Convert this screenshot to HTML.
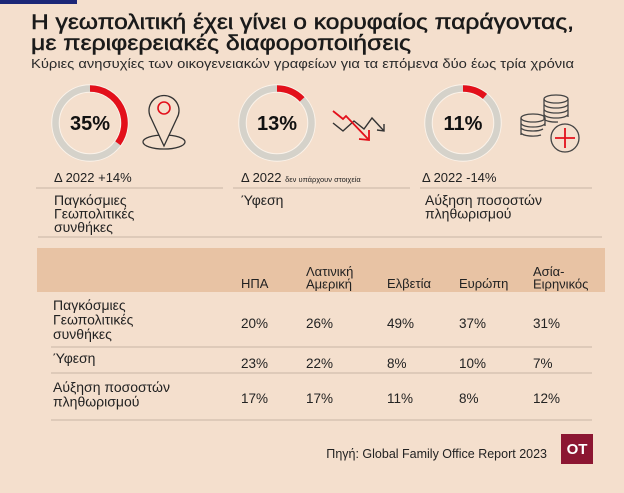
<!DOCTYPE html>
<html><head><meta charset="utf-8"><style>
html,body{margin:0;padding:0;background:#f4dfcd;}
svg{display:block;font-family:"Liberation Sans","DejaVu Sans",sans-serif;}
</style></head><body>
<svg id="chart" width="624" height="493" viewBox="0 0 624 493" xmlns="http://www.w3.org/2000/svg">
<rect x="0" y="0" width="624" height="493" fill="#f4dfcd"/>
<rect x="0" y="0" width="77" height="4" fill="#1c2777"/>
<text x="31" y="29" font-size="21" fill="#1a1a1a" stroke="#1a1a1a" stroke-width="0.5" textLength="543" lengthAdjust="spacingAndGlyphs">Η γεωπολιτική έχει γίνει ο κορυφαίος παράγοντας,</text>
<text x="31" y="50" font-size="21" fill="#1a1a1a" stroke="#1a1a1a" stroke-width="0.5" textLength="380" lengthAdjust="spacingAndGlyphs">με περιφερειακές διαφοροποιήσεις</text>
<text x="31" y="68" font-size="13" fill="#2a2a2a" textLength="543" lengthAdjust="spacingAndGlyphs">Κύριες ανησυχίες των οικογενειακών γραφείων για τα επόμενα δύο έως τρία χρόνια</text>

<g id="donuts"></g>

<g fill="none" stroke-width="1.3">
<ellipse cx="164" cy="142" rx="21" ry="7" stroke="#333"/>
<path d="M164 146 L151 118 A15 15 0 1 1 177 118 Z" stroke="#333" fill="#f4dfcd"/>
<circle cx="164" cy="108" r="6" stroke="#e3101b" stroke-width="1.6"/>
</g>
<g fill="none" stroke-width="1.4">
<polyline points="333,123 343,131 354,121 364,129 372,118 384,131" stroke="#333"/>
<polyline points="377,130 384,131 384,124" stroke="#333"/>
<polyline points="333,111 343,119 346,116 368,139" stroke="#e3101b" stroke-width="1.8"/>
<polyline points="359,139 369,140 369,130" stroke="#e3101b" stroke-width="1.8"/>
</g>
<g fill="none" stroke="#444" stroke-width="1.3">
<ellipse cx="556" cy="99" rx="12" ry="4"/><path d="M544 99 v20 M568 99 v18 M544 104 a12 4 0 0 0 24 0 M544 109 a12 4 0 0 0 24 0 M544 114 a12 4 0 0 0 24 0 M544 119 a12 4 0 0 0 14 3"/>
<ellipse cx="533" cy="118" rx="12" ry="4"/><path d="M521 118 v17 M545 118 v8 M521 123 a12 4 0 0 0 24 0 M521 128 a12 4 0 0 0 22 1 M521 133 a12 4 0 0 0 20 2"/>
<circle cx="565" cy="138" r="14" fill="#f4dfcd"/>
<path d="M565 128 v20 M555 138 h20" stroke="#e3101b" stroke-width="1.8"/>
</g>

<text x="54" y="182" font-size="13" fill="#222">Δ 2022 +14%</text>
<text x="241" y="182" font-size="13" fill="#222">Δ 2022 <tspan font-size="7.5">δεν υπάρχουν στοιχεία</tspan></text>
<text x="422" y="182" font-size="13" fill="#222">Δ 2022 -14%</text>
<line x1="36" y1="188" x2="223" y2="188" stroke="#c9b6a5"/>
<line x1="233" y1="188" x2="410" y2="188" stroke="#c9b6a5"/>
<line x1="420" y1="188" x2="592" y2="188" stroke="#c9b6a5"/>
<g font-size="14" fill="#222">
<text x="54" y="205"><tspan x="54">Παγκόσμιες</tspan><tspan x="54" dy="13.5">Γεωπολιτικές</tspan><tspan x="54" dy="13.5">συνθήκες</tspan></text>
<text x="241" y="205">Ύφεση</text>
<text x="425" y="205"><tspan x="425">Αύξηση ποσοστών</tspan><tspan x="425" dy="13.5">πληθωρισμού</tspan></text>
</g>
<line x1="38" y1="237" x2="602" y2="237" stroke="#c9b6a5"/>

<rect x="37" y="248" width="568" height="44" fill="#e8c3a4"/>
<g id="table"></g>

<text x="547" y="458" font-size="12.5" fill="#222" text-anchor="end">Πηγή: Global Family Office Report 2023</text>
<rect x="561" y="434" width="32" height="30" fill="#8c1632"/>
<text x="577" y="454" font-size="15" font-weight="bold" fill="#fff" text-anchor="middle">OT</text>
</svg>
<script>
const kpiValues = [35, 13, 11];
const kpiCentersX = [90, 277, 463];
const regions = [["ΗΠΑ"], ["Λατινική", "Αμερική"], ["Ελβετία"], ["Ευρώπη"], ["Ασία-", "Ειρηνικός"]];
const rowLabels = [["Παγκόσμιες", "Γεωπολιτικές", "συνθήκες"], ["Ύφεση"], ["Αύξηση ποσοστών", "πληθωρισμού"]];
const geopoliticsValues = [20, 26, 49, 37, 31];
const recessionValues = [23, 22, 8, 10, 7];
const inflationValues = [17, 17, 11, 8, 12];

const NS = "http://www.w3.org/2000/svg";
function mk(tag, attrs, parent) {
  const e = document.createElementNS(NS, tag);
  for (const k in attrs) e.setAttribute(k, attrs[k]);
  parent.appendChild(e);
  return e;
}
const dg = document.getElementById("donuts");
const R = 34.5, cy = 123;
kpiValues.forEach((v, i) => {
  const cx = kpiCentersX[i];
  const ring = mk("circle", {cx: cx, cy: cy, r: R, fill: "none", stroke: "#fbf3ea", "stroke-width": 8.5}, dg);
  
  
  const bg = mk("circle", {cx: cx, cy: cy, r: R, fill: "none", stroke: "#d5d2ca", "stroke-width": 6.5}, dg);
  
  
  const a = v / 100 * 2 * Math.PI;
  const x2 = cx + R * Math.sin(a), y2 = cy - R * Math.cos(a);
  const arc = mk("path", {d: `M${cx} ${cy - R} A${R} ${R} 0 ${v > 50 ? 1 : 0} 1 ${x2} ${y2}`, fill: "none", stroke: "#e3101b", "stroke-width": 6.5}, dg);
  
  
  const t = mk("text", {x: cx, y: cy + 7, "font-size": 20, "font-weight": "bold", "text-anchor": "middle", fill: "#111"}, dg);
  t.textContent = v + "%";
  
  
});

const tg = document.getElementById("table");
const colX = [241, 306, 387, 459, 533];
regions.forEach((lines, i) => {
  const t = mk("text", {"font-size": 13, fill: "#222"}, tg);
  
  
  const y0 = lines.length === 2 ? 276 : 288;
  lines.forEach((s, j) => {
    const sp = mk("tspan", {x: colX[i], y: y0 + j * 12.5}, t);
    sp.textContent = s;
  });
});
const rows = [geopoliticsValues, recessionValues, inflationValues];
const rowValueY = [328, 368, 403];
const rowLabelY = [310, 363, 392];
const rowLineY = [347, 373, 420];
rows.forEach((vals, r) => {
  const lt = mk("text", {"font-size": 14, fill: "#222"}, tg);
  
  
  rowLabels[r].forEach((s, j) => {
    const sp = mk("tspan", {x: 53, y: rowLabelY[r] + j * 14.5}, lt);
    sp.textContent = s;
  });
  vals.forEach((v, c) => {
    const t = mk("text", {x: colX[c], y: rowValueY[r], "font-size": 13.5, fill: "#222"}, tg);
    t.textContent = v + "%";
    
    
  });
  const ln = mk("line", {x1: 51, x2: 592, y1: rowLineY[r], y2: rowLineY[r], stroke: "#c9b6a5"}, tg);
  
  
});
</script>
</body></html>
